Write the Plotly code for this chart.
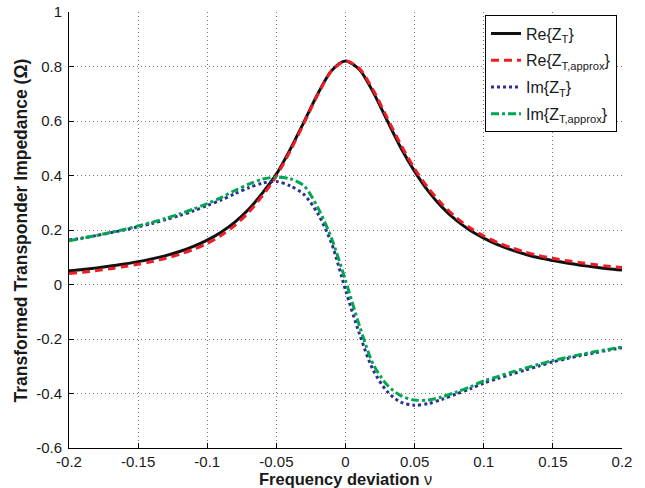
import plotly.graph_objects as go

# Frequency deviation grid
nu = [round(-0.20 + 0.01 * i, 2) for i in range(41)]

# Re{Z_T}
re_zt = [0.050, 0.055, 0.061, 0.068, 0.075, 0.084, 0.094, 0.106, 0.121, 0.140,
         0.163, 0.192, 0.229, 0.276, 0.336, 0.405, 0.496, 0.597, 0.700, 0.785,
         0.820, 0.789, 0.706, 0.603, 0.502, 0.415, 0.342, 0.283, 0.236, 0.199,
         0.170, 0.146, 0.127, 0.111, 0.098, 0.088, 0.079, 0.071, 0.064, 0.058,
         0.053]

# Re{Z_T,approx}
re_zt_approx = [0.040, 0.045, 0.051, 0.058, 0.066, 0.074, 0.084, 0.096, 0.111, 0.129,
                0.151, 0.180, 0.217, 0.265, 0.326, 0.398, 0.490, 0.592, 0.697, 0.784,
                0.820, 0.793, 0.714, 0.613, 0.513, 0.425, 0.353, 0.294, 0.246, 0.208,
                0.178, 0.154, 0.135, 0.119, 0.106, 0.096, 0.087, 0.080, 0.073, 0.067,
                0.062]

# Im{Z_T}
im_zt = [0.163, 0.171, 0.180, 0.190, 0.200, 0.212, 0.224, 0.238, 0.253, 0.270,
         0.290, 0.310, 0.333, 0.355, 0.372, 0.378, 0.362, 0.330, 0.260, 0.150,
         -0.020, -0.180, -0.314, -0.392, -0.432, -0.443, -0.437, -0.421, -0.402, -0.383,
         -0.362, -0.345, -0.329, -0.314, -0.299, -0.284, -0.272, -0.261, -0.251, -0.241,
         -0.232]

# Im{Z_T,approx}
im_zt_approx = [0.160, 0.170, 0.180, 0.191, 0.202, 0.215, 0.228, 0.243, 0.259, 0.277,
                0.297, 0.319, 0.345, 0.368, 0.387, 0.394, 0.388, 0.362, 0.282, 0.168,
                0.015, -0.150, -0.292, -0.368, -0.408, -0.424, -0.424, -0.412, -0.395, -0.376,
                -0.354, -0.338, -0.322, -0.307, -0.293, -0.279, -0.268, -0.257, -0.247, -0.238,
                -0.230]

x_ticks = [-0.2, -0.15, -0.1, -0.05, 0, 0.05, 0.1, 0.15, 0.2]
x_ticktext = ["-0.2", "-0.15", "-0.1", "-0.05", "0", "0.05", "0.1", "0.15", "0.2"]
y_ticks = [-0.6, -0.4, -0.2, 0, 0.2, 0.4, 0.6, 0.8, 1]
y_ticktext = ["-0.6", "-0.4", "-0.2", "0", "0.2", "0.4", "0.6", "0.8", "1"]

x_title = "<b>Frequency deviation</b> ν"
y_title = "<b>Transformed Transponder Impedance (Ω)</b>"

series = [
    ("Re{Z<sub>T</sub>}", re_zt, "#111111", "solid"),
    ("Re{Z<sub>T,approx</sub>}", re_zt_approx, "#ee1c25", "8px,5px"),
    ("Im{Z<sub>T</sub>}", im_zt, "#2b2f8f", "3px,3px"),
    ("Im{Z<sub>T,approx</sub>}", im_zt_approx, "#00a651", "8px,3px,3px,3px"),
]

fig = go.Figure()
for i, (name, vals, color, dash) in enumerate(series):
    fig.add_trace(go.Scatter(
        x=nu, y=vals, name=name, mode="lines", legendgroup=f"g{i}",
        line=dict(color=color, width=3, dash=dash, shape="spline", smoothing=0.8),
    ))

font_family = "Liberation Sans, Arial, sans-serif"
text_color = "#1a1a1a"
axis_common = dict(
    showline=True, linecolor="black", linewidth=1,
    ticks="inside", ticklen=5, tickcolor="black",
    showgrid=True, gridcolor="#7a7a7a", gridwidth=1, griddash="1px,3px",
    zeroline=False, mirror=False, automargin=False,
    tickfont=dict(family=font_family, size=15, color=text_color),
)

fig.update_layout(
    width=645, height=488,
    margin=dict(l=69, r=23, t=12, b=40),
    paper_bgcolor="white", plot_bgcolor="white",
    font=dict(family=font_family, color=text_color),
    showlegend=True,
    legend=dict(
        x=0.991, y=0.992, xanchor="right", yanchor="top",
        bgcolor="white", bordercolor="black", borderwidth=1,
        font=dict(family=font_family, size=16, color=text_color),
        tracegroupgap=3, itemwidth=30,
    ),
    xaxis=dict(
        range=[-0.2, 0.2], tickvals=x_ticks, ticktext=x_ticktext,
        ticklabelstandoff=0, **axis_common,
    ),
    yaxis=dict(
        range=[-0.6, 1], tickvals=y_ticks, ticktext=y_ticktext,
        ticklabelstandoff=3, **axis_common,
    ),
    annotations=[
        dict(text=x_title, xref="paper", yref="paper", x=0.5, y=-0.071,
             xanchor="center", yanchor="middle", showarrow=False,
             font=dict(family=font_family, size=16.5, color=text_color)),
        dict(text=y_title, xref="paper", yref="paper", x=-0.086, y=0.5,
             xanchor="center", yanchor="middle", showarrow=False, textangle=-90,
             font=dict(family=font_family, size=17.5, color=text_color)),
    ],
)

fig.write_html("out.html")
